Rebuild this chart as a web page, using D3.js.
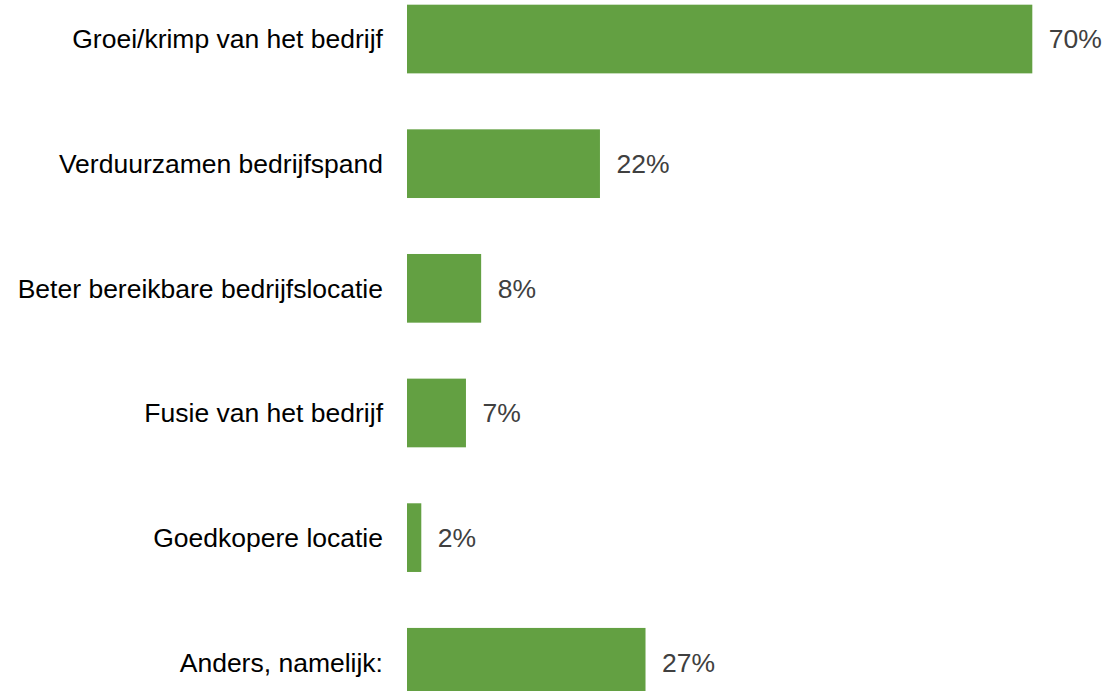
<!DOCTYPE html>
<html>
<head>
<meta charset="utf-8">
<script src="https://cdn.jsdelivr.net/npm/d3@7/dist/d3.min.js"></script>
<style>
  html, body { margin: 0; padding: 0; background: #ffffff; }
  svg { display: block; }
</style>
</head>
<body>
<svg id="chart" width="1104" height="691"></svg>
<script>
const categories = [
  "Groei/krimp van het bedrijf",
  "Verduurzamen bedrijfspand",
  "Beter bereikbare bedrijfslocatie",
  "Fusie van het bedrijf",
  "Goedkopere locatie",
  "Anders, namelijk:"
];
const values = [70.0, 21.6, 8.3, 6.6, 1.6, 26.7];

const svg = d3.select("#chart");
const font = "'Liberation Sans', Arial, sans-serif";

const x = d3.scaleLinear().domain([0, 100]).range([407, 407 + 893.3]);
const y = d3.scaleBand()
  .domain(categories)
  .range([-23.3, 724.6])
  .paddingInner(0.449)
  .paddingOuter(0.2245);

const fmt = v => d3.format(".0f")(v) + "%";

const rows = svg.selectAll("g.row")
  .data(categories.map((c, i) => ({ c, v: values[i] })))
  .join("g").attr("class", "row");

rows.append("rect")
  .attr("x", x(0))
  .attr("y", d => y(d.c))
  .attr("width", d => x(d.v) - x(0))
  .attr("height", y.bandwidth())
  .attr("fill", "#63a042");

rows.append("text")
  .attr("x", x(0) - 24)
  .attr("y", d => y(d.c) + y.bandwidth() / 2)
  .attr("dy", "0.355em")
  .attr("text-anchor", "end")
  .attr("font-family", font)
  .attr("font-size", "26.5px")
  .attr("fill", "#000000")
  .text(d => d.c);

rows.append("text")
  .attr("x", d => x(d.v) + 16.5)
  .attr("y", d => y(d.c) + y.bandwidth() / 2)
  .attr("dy", "0.355em")
  .attr("text-anchor", "start")
  .attr("font-family", font)
  .attr("font-size", "26.5px")
  .attr("fill", "#404040")
  .text(d => fmt(d.v));
</script>
</body>
</html>
